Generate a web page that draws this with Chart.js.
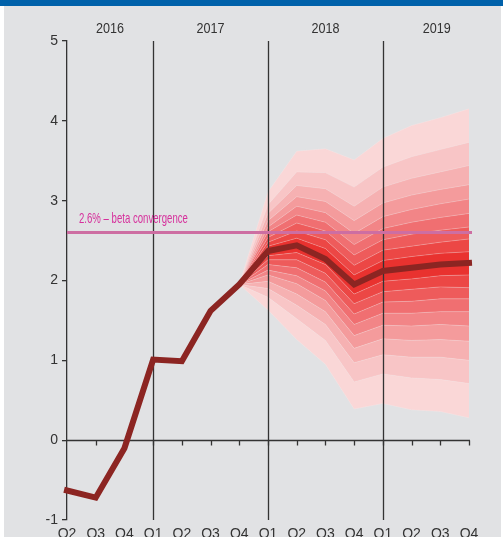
<!DOCTYPE html>
<html>
<head>
<meta charset="utf-8">
<script src="https://cdn.jsdelivr.net/npm/chart.js@4.4.1/dist/chart.umd.min.js"></script>
<style>
  html, body { margin: 0; padding: 0; background: #fff; }
  #wrap { width: 503px; height: 537px; }
</style>
</head>
<body>
<div id="wrap"><canvas id="fan-chart" width="503" height="537"></canvas></div>
<script>
var quarters = ["Q2","Q3","Q4","Q1","Q2","Q3","Q4","Q1","Q2","Q3","Q4","Q1","Q2","Q3","Q4"];
var years = ["2016","2017","2018","2019"];
var growth = [-0.63,-0.72,-0.10,1.01,0.99,1.62,1.95,2.37,2.44,2.27,1.95,2.12,2.16,2.20,2.22];
var betaLevel = 2.6;
var betaText = "2.6% – beta convergence";

// forecast percentiles (fan)
var p05 = [null,null,null,null,null,null,1.95,1.63,1.26,0.95,0.39,0.46,0.38,0.36,0.28];
var p10 = [null,null,null,null,null,null,1.95,1.79,1.52,1.25,0.73,0.83,0.78,0.76,0.71];
var p15 = [null,null,null,null,null,null,1.95,1.90,1.69,1.45,0.97,1.07,1.04,1.04,1.00];
var p20 = [null,null,null,null,null,null,1.95,1.99,1.83,1.61,1.15,1.27,1.25,1.26,1.24];
var p25 = [null,null,null,null,null,null,1.95,2.07,1.96,1.75,1.31,1.44,1.43,1.45,1.43];
var p30 = [null,null,null,null,null,null,1.95,2.13,2.06,1.87,1.45,1.59,1.59,1.61,1.61];
var p35 = [null,null,null,null,null,null,1.95,2.20,2.16,1.98,1.58,1.73,1.74,1.77,1.77];
var p40 = [null,null,null,null,null,null,1.95,2.26,2.26,2.09,1.71,1.86,1.89,1.92,1.91];
var p45 = [null,null,null,null,null,null,1.95,2.31,2.35,2.20,1.83,1.99,2.02,2.06,2.07];
var p55 = [null,null,null,null,null,null,1.95,2.43,2.53,2.40,2.07,2.25,2.30,2.34,2.36];
var p60 = [null,null,null,null,null,null,1.95,2.48,2.62,2.51,2.19,2.38,2.43,2.48,2.52];
var p65 = [null,null,null,null,null,null,1.95,2.54,2.72,2.62,2.32,2.51,2.58,2.63,2.67];
var p70 = [null,null,null,null,null,null,1.95,2.61,2.82,2.73,2.45,2.65,2.73,2.79,2.84];
var p75 = [null,null,null,null,null,null,1.95,2.67,2.93,2.85,2.59,2.80,2.89,2.96,3.02];
var p80 = [null,null,null,null,null,null,1.95,2.75,3.05,2.99,2.75,2.97,3.07,3.14,3.20];
var p85 = [null,null,null,null,null,null,1.95,2.84,3.19,3.15,2.93,3.17,3.28,3.36,3.44];
var p90 = [null,null,null,null,null,null,1.95,2.95,3.36,3.35,3.17,3.42,3.55,3.64,3.73];
var p95 = [null,null,null,null,null,null,1.95,3.11,3.62,3.65,3.51,3.78,3.94,4.04,4.15];

var FONT = "'Liberation Sans', Arial, sans-serif";
// outermost -> centre
var shades = ["#fad7d7","#f8c5c6","#f6b1b2","#f49b9c","#f28587","#f06f71","#ee5b5b","#ec4745","#e9322f"];

var bounds = [p05,p10,p15,p20,p25,p30,p35,p40,p45,p55,p60,p65,p70,p75,p80,p85,p90,p95];
var datasets = [];
for (var i = 0; i < bounds.length; i++) {
  var level = i <= 8 ? i - 1 : 17 - i;   // band between this bound and the previous one
  if (i == 9) level = 8;
  datasets.push({
    label: "band" + i,
    data: bounds[i],
    borderWidth: 0.6,
    borderColor: "rgba(255,235,235,0.45)",
    pointRadius: 0,
    backgroundColor: i == 0 ? "transparent" : shades[level],
    fill: i == 0 ? false : "-1",
    order: 1
  });
}
datasets.push({
  label: "growth",
  data: growth,
  borderColor: "#8c2522",
  borderWidth: 6,
  borderCapStyle: "square",
  borderJoinStyle: "miter",
  pointRadius: 0,
  fill: false,
  clip: false,
  order: 0
});
var medianIndex = datasets.length - 1;

// narrow text: the original uses a condensed face
function narrowText(c, txt, x, y, sx) {
  c.save();
  c.translate(x, y);
  c.scale(sx, 1);
  c.fillText(txt, 0, 0);
  c.restore();
}

var extras = {
  id: "extras",
  beforeDraw: function(chart) {
    var c = chart.ctx;
    c.save();
    c.fillStyle = "#ffffff";
    c.fillRect(0, 0, chart.width, chart.height);
    c.fillStyle = "#e1e2e4";
    c.fillRect(4, 0, chart.width - 6, chart.height);
    c.fillStyle = "#0061aa";
    c.fillRect(0, 0, chart.width, 6);
    c.restore();
  },
  beforeDatasetsDraw: function(chart) {
    var c = chart.ctx, x = chart.scales.x, y = chart.scales.y;
    var y0 = Math.round(y.getPixelForValue(0)) + 0.5;
    c.save();
    c.strokeStyle = "#333";
    c.lineWidth = 1.3;
    c.beginPath();
    c.moveTo(chart.chartArea.left, y0);
    c.lineTo(x.getPixelForValue(quarters.length - 1) + 1, y0);
    for (var i = 1; i < quarters.length; i++) {
      var px = Math.round(x.getPixelForValue(i)) + 0.5;
      c.moveTo(px, y0);
      c.lineTo(px, y0 + 5);
    }
    c.stroke();
    c.restore();
  },
  beforeDatasetDraw: function(chart, args) {
    if (args.index != medianIndex) return;
    var c = chart.ctx, x = chart.scales.x, y = chart.scales.y, a = chart.chartArea;
    c.save();
    // year dividers at each Q1
    var starts = [0];
    c.strokeStyle = "#333";
    c.lineWidth = 1.3;
    c.beginPath();
    for (var i = 0; i < quarters.length; i++) {
      if (quarters[i] == "Q1") {
        starts.push(i);
        var px = Math.round(x.getPixelForValue(i)) + 0.5;
        c.moveTo(px, a.top);
        c.lineTo(px, a.bottom);
      }
    }
    c.stroke();
    starts.push(quarters.length - 0.25);
    // year labels
    c.fillStyle = "#333";
    c.font = "15px " + FONT;
    c.textAlign = "center";
    c.textBaseline = "middle";
    for (var j = 0; j < years.length; j++) {
      var cx = (x.getPixelForValue(starts[j]) + x.getPixelForValue(starts[j + 1])) / 2;
      narrowText(c, years[j], cx, 29, 0.84);
    }
    // beta convergence line
    var yb = y.getPixelForValue(betaLevel);
    c.strokeStyle = "#cd6ea2";
    c.lineWidth = 3;
    c.beginPath();
    c.moveTo(a.left, yb);
    c.lineTo(x.getPixelForValue(quarters.length - 1) + 3, yb);
    c.stroke();
    c.fillStyle = "#d6309c";
    c.font = "15px " + FONT;
    c.textAlign = "left";
    narrowText(c, betaText, a.left + 12, yb - 14, 0.64);
    c.restore();
  }
};

new Chart(document.getElementById("fan-chart"), {
  type: "line",
  data: { labels: quarters, datasets: datasets },
  options: {
    responsive: false,
    animation: false,
    devicePixelRatio: 1,
    layout: { padding: { left: 4, right: 34, top: 41, bottom: 0 } },
    plugins: { legend: { display: false }, tooltip: { enabled: false } },
    elements: { line: { tension: 0 } },
    scales: {
      x: {
        type: "category",
        grid: { display: false, drawTicks: false },
        border: { display: false },
        ticks: { color: "#333", font: { family: FONT, size: 14 }, padding: 6, maxRotation: 0, autoSkip: false },
        afterFit: function(s) { s.height = 17; }
      },
      y: {
        min: -1,
        max: 5,
        ticks: { stepSize: 1, color: "#333", font: { family: FONT, size: 14 }, padding: 4 },
        grid: { drawOnChartArea: false, drawTicks: true, tickLength: 5, color: "#333", lineWidth: 1.3 },
        border: { display: true, color: "#333", width: 1.3 },
        afterFit: function(s) { s.width = 63; }
      }
    }
  },
  plugins: [extras]
});
</script>
</body>
</html>
